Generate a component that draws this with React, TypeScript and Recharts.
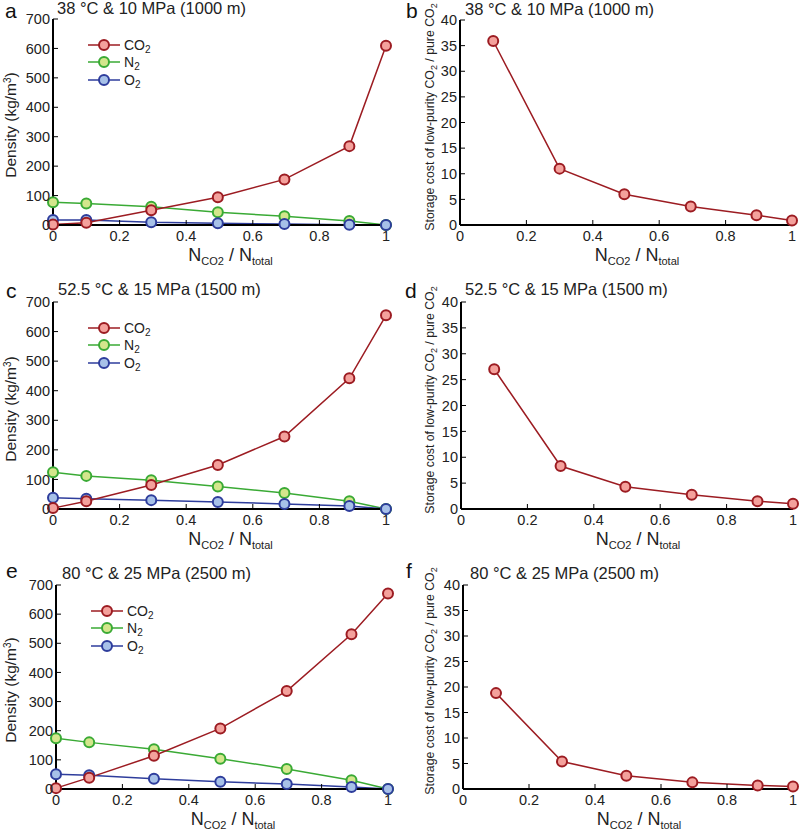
import React from 'react';
import { LineChart, Line, XAxis, YAxis, Legend } from 'recharts';

const X_DENSITY = [0, 0.1, 0.295, 0.495, 0.695, 0.89, 1];
const X_COST = [0.1, 0.3, 0.495, 0.695, 0.893, 1];

const CO2_A = [2, 8, 50, 94, 155, 268, 609];
const N2_A = [77, 73, 62, 43, 30, 14, 0];
const O2_A = [17, 17, 9, 6, 3, 1, 0];
const COST_B = [35.9, 11.0, 6.0, 3.6, 1.9, 0.9];

const CO2_C = [3, 26, 81, 149, 245, 442, 655];
const N2_C = [124, 112, 97, 76, 54, 26, 0];
const O2_C = [38, 35, 30, 24, 17, 10, 0];
const COST_D = [27.0, 8.3, 4.3, 2.75, 1.5, 1.0];

const CO2_E = [3, 39, 114, 208, 336, 531, 671];
const N2_E = [174, 160, 136, 104, 69, 30, 0];
const O2_E = [51, 47, 35, 25, 17, 7, 0];
const COST_F = [18.8, 5.4, 2.6, 1.3, 0.7, 0.5];

const X_TICKS = [0, 0.2, 0.4, 0.6, 0.8, 1];
const DENSITY_TICKS = [0, 100, 200, 300, 400, 500, 600, 700];
const COST_TICKS = [0, 5, 10, 15, 20, 25, 30, 35, 40];
const TITLES = [
  '38 °C & 10 MPa (1000 m)',
  '38 °C & 10 MPa (1000 m)',
  '52.5 °C & 15 MPa (1500 m)',
  '52.5 °C & 15 MPa (1500 m)',
  '80 °C & 25 MPa (2500 m)',
  '80 °C & 25 MPa (2500 m)',
];
const LETTERS = ['a', 'b', 'c', 'd', 'e', 'f'];

const FONT = '"Liberation Sans", Arial, Helvetica, sans-serif';
const TEXT = '#222';

const SERIES = [
  { key: 'n2', name: 'N', sub: '2', line: '#3aaa35', fill: '#d4e68c' },
  { key: 'o2', name: 'O', sub: '2', line: '#2e3d9c', fill: '#a7c1e8' },
  { key: 'co2', name: 'CO', sub: '2', line: '#9c1c22', fill: '#f4a19c' },
];
const LEGEND_ORDER = ['co2', 'n2', 'o2'];

const buildDensity = (co2: number[], n2: number[], o2: number[]) =>
  X_DENSITY.map((x, i) => ({ x, co2: co2[i], n2: n2[i], o2: o2[i] }));
const buildCost = (c: number[]) => X_COST.map((x, i) => ({ x, cost: c[i] }));

const fmtX = (v: number) => (v === 0 ? '0' : v === 1 ? '1' : String(v));

type Plot = { l: number; t: number; r: number; b: number };

type PanelProps = {
  idx: number;
  left: number;
  top: number;
  width: number;
  height: number;
  plot: Plot;
  kind: 'density' | 'cost';
  data: any[];
  titleX: number;
  titleBase: number;
  letterX: number;
  letterBase: number;
};

const LegendBox = () => (
  <div style={{ fontFamily: FONT, fontSize: 14, color: TEXT }}>
    {LEGEND_ORDER.map((k) => {
      const s = SERIES.find((q) => q.key === k)!;
      return (
        <div key={k} style={{ display: 'flex', alignItems: 'center', height: 17.5 }}>
          <svg width={32} height={14} style={{ display: 'block' }}>
            <line x1={0} y1={7} x2={32} y2={7} stroke={s.line} strokeWidth={1.5} />
            <circle cx={16} cy={7} r={5} fill={s.fill} stroke={s.line} strokeWidth={2} />
          </svg>
          <span style={{ marginLeft: 4, lineHeight: 1 }}>
            {s.name}
            <span style={{ fontSize: 10, position: 'relative', top: 3 }}>{s.sub}</span>
          </span>
        </div>
      );
    })}
  </div>
);

const Panel = (p: PanelProps) => {
  const { left, top, width, height, plot, kind, data } = p;
  const marginTop = plot.t - top;
  const yw = plot.l - left;
  const marginRight = left + width - plot.r;
  const xh = top + height - plot.b;
  const isD = kind === 'density';
  const yTicks = isD ? DENSITY_TICKS : COST_TICKS;
  const yDomain: [number, number] = isD ? [0, 700] : [0, 40];
  const axisLine = { stroke: '#000', strokeWidth: 2 };
  const tickLine = { stroke: '#000', strokeWidth: 1 };
  const tickStyle = { fontSize: 14.5, fill: TEXT, fontFamily: FONT };
  const plotCx = (plot.l + plot.r) / 2 - left;
  const plotCy = (plot.t + plot.b) / 2 - top;
  return (
    <div style={{ position: 'absolute', left, top, width, height }}>
      <LineChart
        width={width}
        height={height}
        data={data}
        margin={{ top: marginTop, right: marginRight, left: 0, bottom: 0 }}
      >
        <XAxis
          xAxisId="b"
          type="number"
          dataKey="x"
          domain={[0, 1]}
          ticks={X_TICKS}
          interval={0}
          tickFormatter={fmtX}
          axisLine={axisLine}
          tickLine={tickLine}
          tickSize={-5}
          tickMargin={11}
          height={xh}
          tick={tickStyle}
        />
        <XAxis
          xAxisId="t"
          orientation="top"
          type="number"
          dataKey="x"
          domain={[0, 1]}
          ticks={X_TICKS}
          interval={0}
          axisLine={axisLine}
          tickLine={tickLine}
          tickSize={-5}
          height={0}
          tick={false}
        />
        <YAxis
          yAxisId="l"
          type="number"
          domain={yDomain}
          ticks={yTicks}
          interval={0}
          axisLine={axisLine}
          tickLine={tickLine}
          tickSize={-5}
          tickMargin={8}
          width={yw}
          tick={tickStyle}
        />
        <YAxis
          yAxisId="r"
          orientation="right"
          type="number"
          domain={yDomain}
          ticks={yTicks}
          interval={0}
          axisLine={axisLine}
          tickLine={tickLine}
          tickSize={-5}
          width={0}
          tick={false}
        />
        {isD &&
          SERIES.map((s) => (
            <Line
              key={s.key}
              xAxisId="b"
              yAxisId="l"
              type="linear"
              dataKey={s.key}
              stroke={s.line}
              strokeWidth={1.5}
              dot={{ r: 5, fill: s.fill, stroke: s.line, strokeWidth: 2 }}
              isAnimationActive={false}
            />
          ))}
        {!isD && (
          <Line
            xAxisId="b"
            yAxisId="l"
            type="linear"
            dataKey="cost"
            stroke="#9c1c22"
            strokeWidth={1.5}
            dot={{ r: 5, fill: '#f4a19c', stroke: '#9c1c22', strokeWidth: 2 }}
            isAnimationActive={false}
          />
        )}
        {isD && (
          <Legend
            layout="vertical"
            align="center"
            verticalAlign="middle"
            wrapperStyle={{ left: plot.l - left + 35, top: marginTop + 17, width: 'auto' }}
            content={() => <LegendBox />}
          />
        )}
      </LineChart>
      {/* panel letter */}
      <div
        style={{
          position: 'absolute',
          left: p.letterX - left,
          top: Math.max(p.letterBase - top - 17.8, 0),
          fontSize: 21,
          lineHeight: 1,
          fontFamily: FONT,
          color: '#111',
        }}
      >
        {LETTERS[p.idx]}
      </div>
      {/* title */}
      <div
        style={{
          position: 'absolute',
          left: p.titleX - left,
          top: Math.max(p.titleBase - top - 14, 0),
          fontSize: 16.5,
          lineHeight: 1,
          fontFamily: FONT,
          color: TEXT,
          whiteSpace: 'nowrap',
        }}
      >
        {TITLES[p.idx]}
      </div>
      {/* y label */}
      <div
        style={{
          position: 'absolute',
          left: isD ? 11 : 30,
          top: isD ? plotCy + 3 : plotCy - 6,
          transform: 'translate(-50%, -50%) rotate(-90deg)',
          fontSize: isD ? 15.5 : 12.3,
          lineHeight: 1,
          fontFamily: FONT,
          color: TEXT,
          whiteSpace: 'nowrap',
        }}
      >
        {isD ? (
          <span>
            Density (kg/m<span style={{ fontSize: 10, position: 'relative', top: -5 }}>3</span>)
          </span>
        ) : (
          <span>
            Storage cost of low-purity CO
            <span style={{ fontSize: 9, position: 'relative', top: 3 }}>2</span> / pure CO
            <span style={{ fontSize: 9, position: 'relative', top: 3 }}>2</span>
          </span>
        )}
      </div>
      {/* x label */}
      <div
        style={{
          position: 'absolute',
          left: plotCx + 11,
          top: plot.b - top + 36 - 12.5,
          transform: 'translateX(-50%)',
          fontSize: 18,
          lineHeight: 0.7,
          fontFamily: FONT,
          color: TEXT,
          whiteSpace: 'nowrap',
        }}
      >
        N<span style={{ fontSize: 11, position: 'relative', top: 4 }}>CO2</span> / N
        <span style={{ fontSize: 11, position: 'relative', top: 4 }}>total</span>
      </div>
    </div>
  );
};

const PANELS: PanelProps[] = [
  {
    idx: 0, left: 0, top: 0, width: 400, height: 278,
    plot: { l: 53, t: 19, r: 386, b: 225 }, kind: 'density',
    data: buildDensity(CO2_A, N2_A, O2_A),
    titleX: 57, titleBase: 14, letterX: 5, letterBase: 15,
  },
  {
    idx: 1, left: 400, top: 0, width: 400, height: 278,
    plot: { l: 460, t: 20, r: 792, b: 225 }, kind: 'cost',
    data: buildCost(COST_B),
    titleX: 465, titleBase: 15, letterX: 406, letterBase: 17,
  },
  {
    idx: 2, left: 0, top: 280, width: 400, height: 278,
    plot: { l: 53, t: 302, r: 386, b: 509 }, kind: 'density',
    data: buildDensity(CO2_C, N2_C, O2_C),
    titleX: 58, titleBase: 295, letterX: 6, letterBase: 298,
  },
  {
    idx: 3, left: 400, top: 280, width: 400, height: 278,
    plot: { l: 461, t: 302, r: 793, b: 509 }, kind: 'cost',
    data: buildCost(COST_D),
    titleX: 465, titleBase: 295, letterX: 405, letterBase: 296,
  },
  {
    idx: 4, left: 0, top: 560, width: 400, height: 274,
    plot: { l: 56, t: 585, r: 388, b: 789 }, kind: 'density',
    data: buildDensity(CO2_E, N2_E, O2_E),
    titleX: 62, titleBase: 579, letterX: 6, letterBase: 578,
  },
  {
    idx: 5, left: 400, top: 560, width: 400, height: 274,
    plot: { l: 463, t: 585, r: 793, b: 789 }, kind: 'cost',
    data: buildCost(COST_F),
    titleX: 470, titleBase: 579, letterX: 406, letterBase: 578,
  },
];

export default function App() {
  return (
    <div
      style={{
        position: 'absolute',
        left: 0,
        top: 0,
        width: 800,
        height: 834,
        background: '#fff',
        fontFamily: FONT,
        overflow: 'hidden',
      }}
    >
      {PANELS.map((p) => (
        <Panel key={p.idx} {...p} />
      ))}
    </div>
  );
}
